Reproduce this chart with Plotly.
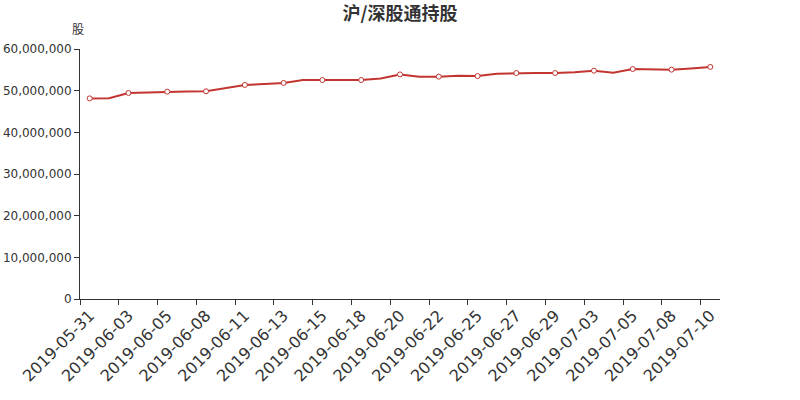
import plotly.graph_objects as go

dates = [
    "2019-05-31", "2019-06-01", "2019-06-03", "2019-06-04", "2019-06-05", "2019-06-06",
    "2019-06-08", "2019-06-10", "2019-06-11", "2019-06-12", "2019-06-13", "2019-06-14",
    "2019-06-15", "2019-06-17", "2019-06-18", "2019-06-19", "2019-06-20", "2019-06-21",
    "2019-06-22", "2019-06-24", "2019-06-25", "2019-06-26", "2019-06-27", "2019-06-28",
    "2019-06-29", "2019-07-02", "2019-07-03", "2019-07-04", "2019-07-05", "2019-07-06",
    "2019-07-08", "2019-07-09", "2019-07-10",
]
holdings = [
    48150000, 48200000, 49450000, 49600000, 49760000, 49800000,
    49850000, 50600000, 51370000, 51600000, 51850000, 52550000,
    52550000, 52550000, 52550000, 52900000, 53900000, 53360000,
    53360000, 53600000, 53500000, 54080000, 54240000, 54240000,
    54240000, 54400000, 54800000, 54300000, 55200000, 55200000,
    55040000, 55350000, 55700000,
]
title_text = "沪/深股通持股"
y_unit = "股"

idx = list(range(len(dates)))
shown = [i for i in idx if i % 2 == 0]
line_color = "#c23531"
txt = "#333333"

fig = go.Figure()
fig.add_trace(go.Scatter(
    x=idx, y=holdings, mode="lines",
    line=dict(color=line_color, width=2),
    hoverinfo="skip", showlegend=False,
))
fig.add_trace(go.Scatter(
    x=shown, y=[holdings[i] for i in shown], mode="markers",
    marker=dict(symbol="circle", size=5, color="white",
                line=dict(color=line_color, width=1)),
    showlegend=False,
))

fig.update_layout(
    width=800, height=400,
    margin=dict(l=80, r=80, t=49, b=101, autoexpand=False),
    paper_bgcolor="white", plot_bgcolor="white",
    font=dict(family="DejaVu Sans, Noto Sans CJK SC", color=txt, size=12),
    title=dict(text="<b>" + title_text + "</b>", x=0.5, xanchor="center",
               y=0.965, yanchor="middle", automargin=False,
               font=dict(family="Noto Sans CJK SC, DejaVu Sans", size=18, color=txt)),
    xaxis=dict(
        automargin=False,
        range=[-0.5, len(dates) - 0.5],
        tickmode="array", tickvals=shown, ticktext=[dates[i] for i in shown],
        tickangle=-45, tickfont=dict(family="DejaVu Sans", size=16, color=txt),
        ticks="", showgrid=False, zeroline=False,
        showline=True, linecolor=txt, linewidth=1,
        minor=dict(tickmode="array",
                   tickvals=[i - 0.5 for i in shown],
                   ticks="outside", ticklen=5, tickcolor=txt, showgrid=False),
    ),
    yaxis=dict(
        automargin=False,
        range=[0, 60000000], tickmode="linear", tick0=0, dtick=10000000,
        tickformat=",d", tickfont=dict(family="DejaVu Sans", size=12, color=txt),
        ticks="outside", ticklen=5, tickcolor=txt,
        showgrid=False, zeroline=False,
        showline=True, linecolor=txt, linewidth=1,
    ),
    annotations=[dict(
        text=y_unit, xref="paper", yref="paper", x=0, y=1,
        xanchor="center", yanchor="bottom", yshift=10, xshift=-2,
        showarrow=False, font=dict(size=12, color=txt,
                                   family="Noto Sans CJK SC, DejaVu Sans"),
    )],
)

fig.write_html(
    "out.html",
    config={"displayModeBar": False},
    post_script="document.body.style.margin='0';document.body.style.padding='0';",
)
